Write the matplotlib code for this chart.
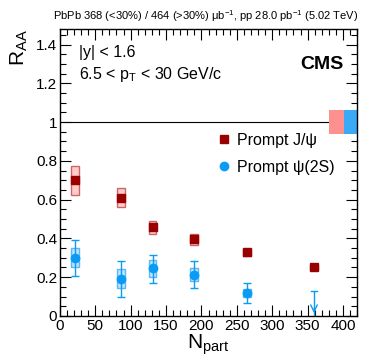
import numpy as np
import matplotlib.pyplot as plt
from matplotlib.patches import Rectangle
from matplotlib.ticker import MultipleLocator

plt.rcParams['font.family'] = ['Liberation Sans', 'DejaVu Sans']
plt.rcParams['mathtext.fontset'] = 'custom'
plt.rcParams['mathtext.rm'] = 'Liberation Sans'
plt.rcParams['mathtext.it'] = 'Liberation Sans'

# J/psi
npartJpsi = [21, 86, 131, 189, 264, 359]
raaJpsi = [0.70, 0.611, 0.458, 0.395, 0.329, 0.25]
systJpsi = [0.074, 0.05, 0.034, 0.03, 0.018, 0.012]

# psi(2S)
npartPsi = [21, 86, 131, 189, 264]
raaPsi = [0.301, 0.191, 0.245, 0.213, 0.117]
statLoPsi = [0.093, 0.091, 0.076, 0.07, 0.051]
statHiPsi = [0.092, 0.09, 0.07, 0.071, 0.052]
systPsi = [0.05, 0.049, 0.045, 0.033, 0.021]
limitNpart = 359
limitPsi = 0.13

globalJpsi = 0.06
globalPsi = 0.06

redCol = '#990000'
blueCol = '#0a9bf5'

fig = plt.figure(figsize=(3.74, 3.59), dpi=100)
ax = fig.add_axes([0.160, 0.120, 0.795, 0.799])

boxW = 5.5
for x, y, s in zip(npartJpsi, raaJpsi, systJpsi):
    ax.add_patch(Rectangle((x - boxW, y - s), 2 * boxW, 2 * s, facecolor='#ffcccc',
                           edgecolor='#cc6666', lw=1.0, zorder=2))
for x, y, s in zip(npartPsi, raaPsi, systPsi):
    ax.add_patch(Rectangle((x - boxW, y - s), 2 * boxW, 2 * s, facecolor='#bfe3fc',
                           edgecolor='#5ab8f7', lw=1.0, zorder=2))

ax.errorbar(npartPsi, raaPsi, yerr=[statLoPsi, statHiPsi], fmt='none', ecolor=blueCol,
            elinewidth=1.0, capsize=3, capthick=1.0, zorder=3)
hJ, = ax.plot(npartJpsi, raaJpsi, 's', color=redCol, markersize=6, zorder=4, ls='none')
hP, = ax.plot(npartPsi, raaPsi, 'o', color=blueCol, markersize=6, zorder=4, ls='none')

# upper limit for most central psi(2S) bin
ax.errorbar([limitNpart], [limitPsi], yerr=[[limitPsi], [0]], fmt='none', ecolor=blueCol,
            elinewidth=1.0, capsize=0, zorder=3)
ax.plot([limitNpart - 4, limitNpart + 4], [limitPsi, limitPsi], color=blueCol, lw=1.0)
ax.annotate('', xy=(limitNpart, 0.0), xytext=(limitNpart, 0.05),
            arrowprops=dict(arrowstyle='->', color=blueCol, lw=1.0, mutation_scale=12))

ax.axhline(1.0, color='black', lw=0.8, zorder=1)
ax.add_patch(Rectangle((380, 1 - globalJpsi), 21, 2 * globalJpsi, facecolor='#ff9090',
                       edgecolor='none', zorder=2))
ax.add_patch(Rectangle((401, 1 - globalPsi), 21, 2 * globalPsi, facecolor='#3aaaf7',
                       edgecolor='none', zorder=2))

ax.set_xlim(0, 420)
ax.set_ylim(0, 1.48)
ax.xaxis.set_major_locator(MultipleLocator(50))
ax.xaxis.set_minor_locator(MultipleLocator(10))
ax.yaxis.set_major_locator(MultipleLocator(0.2))
ax.yaxis.set_minor_locator(MultipleLocator(0.05))
ax.set_yticks([0, 0.2, 0.4, 0.6, 0.8, 1.0, 1.2, 1.4])
ax.set_yticklabels(['0', '0.2', '0.4', '0.6', '0.8', '1', '1.2', '1.4'])
ax.tick_params(which='both', direction='in', top=True, right=True, labelsize=11, pad=2)
ax.tick_params(which='major', length=8, width=0.8)
ax.tick_params(which='minor', length=4, width=0.8)
for sp in ax.spines.values():
    sp.set_linewidth(1.0)

ax.set_xlabel('N$_{\\mathregular{part}}$', fontsize=15, labelpad=0)
ax.set_ylabel('R$_{\\mathregular{AA}}$', fontsize=15, loc='top', labelpad=4)

fig.text(0.957, 0.955, 'PbPb 368 (<30%) / 464 (>30%) \u03bcb$^{-1}$, pp 28.0 pb$^{-1}$ (5.02 TeV)',
         ha='right', va='center', fontsize=8.0)
ax.text(0.065, 0.92, '|y| < 1.6', transform=ax.transAxes, fontsize=11.5, va='center')
ax.text(0.065, 0.84, '6.5 < p$_{\\mathregular{T}}$ < 30 GeV/c', transform=ax.transAxes,
        fontsize=11.5, va='center')
ax.text(0.955, 0.875, 'CMS', transform=ax.transAxes, fontsize=14, fontweight='bold',
        ha='right', va='center')

ax.legend([hJ, hP], ['Prompt J/\u03c8', 'Prompt \u03c8(2S)'], loc='upper left',
          bbox_to_anchor=(0.49, 0.66), frameon=False, fontsize=11.5, handletextpad=0.1,
          handlelength=1.5, labelspacing=0.75, borderaxespad=0)

fig.savefig('out.png', dpi=100)
